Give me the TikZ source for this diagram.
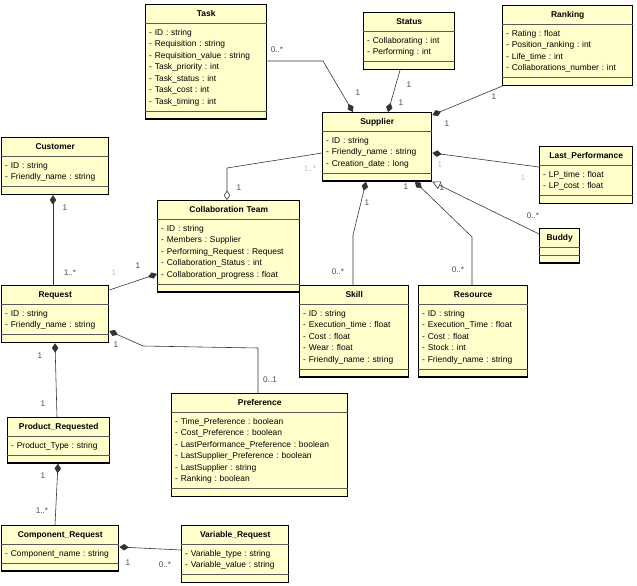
\documentclass[tikz,border=0pt]{standalone}
\usepackage{fontspec}
\setmainfont{Liberation Sans}
\usepackage{tikz}
\usetikzlibrary{arrows.meta,positioning,shapes.multipart,calc}
\definecolor{umlFill}{HTML}{FFFFCC}
\definecolor{umlLine}{HTML}{333333}
\newcommand{\umlfont}{\fontsize{7.2}{9.8}\selectfont\frenchspacing}
\tikzset{
  clase/.style={rectangle split, rectangle split parts=3, rectangle split ignore empty parts=false, rectangle split draw splits=false, draw=black, line width=1.2pt, fill=umlFill, font=\umlfont, align=left, text width=#1, inner xsep=3pt, inner ysep=2.5pt, anchor=north west},
  compart/.style={draw=black!65, line width=0.45pt},
  asoc/.style={draw=umlLine, line width=0.5pt},
  comp/.style={asoc, -{Diamond[length=8pt,width=5.5pt]}},
  agreg/.style={asoc, -{Diamond[open,length=8pt,width=5.5pt]}},
  gen/.style={asoc, -{Triangle[open,length=7pt,width=7pt]}},
  mult/.style={font=\fontsize{7}{8}\selectfont, inner sep=0pt},
}

\begin{document}
\begin{tikzpicture}[x=0.03cm, y=-0.03cm]
\useasboundingbox (0,0) rectangle (637,586);

% clases
\node[clase=97.3pt] (task) at (145,4) {\hfill\strut\textbf{Task}\hfill\null
  \nodepart{two}\strut- ID : string\\- Requisition : string\\- Requisition\_value : string\\- Task\_priority : int\\- Task\_status : int\\- Task\_cost : int\\- Task\_timing : int\strut
  \nodepart{three}\rule{0pt}{0.5pt}};
\node[clase=71.7pt] (status) at (363,12) {\hfill\strut\textbf{Status}\hfill\null
  \nodepart{two}\strut- Collaborating : int\\- Performing : int\strut
  \nodepart{three}\rule{0pt}{0.5pt}};
\node[clase=105pt] (ranking) at (502,5) {\hfill\strut\textbf{Ranking}\hfill\null
  \nodepart{two}\strut- Rating : float\\- Position\_ranking : int\\- Life\_time : int\\- Collaborations\_number : int\strut
  \nodepart{three}\rule{0pt}{0.5pt}};
\node[clase=87pt] (supplier) at (322,112) {\hfill\strut\textbf{Supplier}\hfill\null
  \nodepart{two}\strut- ID : string\\- Friendly\_name : string\\- Creation\_date : long\strut
  \nodepart{three}\rule{0pt}{0.5pt}};
\node[clase=73.4pt] (lastperf) at (539,146) {\hfill\strut\textbf{Last\_Performance}\hfill\null
  \nodepart{two}\strut- LP\_time : float\\- LP\_cost : float\strut
  \nodepart{three}\rule{0pt}{0.5pt}};
\node[clase=28.1pt] (buddy) at (539,228) {\hfill\strut\textbf{Buddy}\hfill\null
  \nodepart{two}\rule{0pt}{0.5pt}
  \nodepart{three}\rule{0pt}{0.5pt}};
\node[clase=85.3pt] (customer) at (1,137) {\hfill\strut\textbf{Customer}\hfill\null
  \nodepart{two}\strut- ID : string\\- Friendly\_name : string\strut
  \nodepart{three}\rule{0pt}{0.5pt}};
\node[clase=115.2pt] (collab) at (157,200) {\hfill\strut\textbf{Collaboration Team}\hfill\null
  \nodepart{two}\strut- ID : string\\- Members : Supplier\\- Performing\_Request : Request\\- Collaboration\_Status : int\\- Collaboration\_progress : float\strut
  \nodepart{three}\rule{0pt}{0.5pt}};
\node[clase=85.3pt] (request) at (1,285) {\hfill\strut\textbf{Request}\hfill\null
  \nodepart{two}\strut- ID : string\\- Friendly\_name : string\strut
  \nodepart{three}\rule{0pt}{0.5pt}};
\node[clase=87pt] (skill) at (299,285) {\hfill\strut\textbf{Skill}\hfill\null
  \nodepart{two}\strut- ID : string\\- Execution\_time : float\\- Cost : float\\- Wear : float\\- Friendly\_name : string\strut
  \nodepart{three}\rule{0pt}{0.5pt}};
\node[clase=87pt] (resource) at (418,285) {\hfill\strut\textbf{Resource}\hfill\null
  \nodepart{two}\strut- ID : string\\- Execution\_Time : float\\- Cost : float\\- Stock : int\\- Friendly\_name : string\strut
  \nodepart{three}\rule{0pt}{0.5pt}};
\node[clase=144.2pt] (preference) at (171,393) {\hfill\strut\textbf{Preference}\hfill\null
  \nodepart{two}\strut- Time\_Preference : boolean\\- Cost\_Preference : boolean\\- LastPerformance\_Preference : boolean\\- LastSupplier\_Preference : boolean\\- LastSupplier : string\\- Ranking : boolean\strut
  \nodepart{three}\rule{0pt}{0.5pt}};
\node[clase=81.1pt] (prodreq) at (7,417) {\hfill\strut\textbf{Product\_Requested}\hfill\null
  \nodepart{two}\strut- Product\_Type : string\strut
  \nodepart{three}\rule{0pt}{0.5pt}};
\node[clase=93.9pt] (compreq) at (1,525) {\hfill\strut\textbf{Component\_Request}\hfill\null
  \nodepart{two}\strut- Component\_name : string\strut
  \nodepart{three}\rule{0pt}{0.5pt}};
\node[clase=85.3pt] (varreq) at (181,525) {\hfill\strut\textbf{Variable\_Request}\hfill\null
  \nodepart{two}\strut- Variable\_type : string\\- Variable\_value : string\strut
  \nodepart{three}\rule{0pt}{0.5pt}};

% compartimentos
\foreach \c in {task,status,ranking,supplier,lastperf,buddy,customer,collab,request,skill,resource,preference,prodreq,compreq,varreq}
  \draw[compart] (\c.one split west) -- (\c.one split east) (\c.two split west) -- (\c.two split east);

% asociaciones
\draw[comp] (task.east |- 0,61) -- (323,61) -- (supplier.north -| 353,0);
\draw[comp] (status.south -| 400,0) -- (supplier.north -| 388,0);
\draw[comp] (ranking.south west) -- (supplier.east |- 0,115);
\draw[comp] (lastperf.west |- 0,167) -- (supplier.east |- 0,153);
\draw[gen] (buddy.west |- 0,234) -- (supplier.south east);
\draw[comp] (skill.north -| 353,0) -- (353,235) -- (supplier.south -| 366,0);
\draw[comp] (resource.north -| 472,0) -- (472,237) -- (supplier.south -| 415,0);
\draw[agreg] (supplier.west |- 0,153) -- (227,168) -- (collab.north -| 227,0);
\draw[comp] (request.north -| 53,0) -- (customer.south -| 53,0);
\draw[comp] (request.east |- 0,290) -- (collab.west |- 0,274);
\draw[comp] (preference.north -| 258,0) -- (258,348) -- (143,346) -- (request.east |- 0,331);
\draw[comp] (prodreq.north -| 57,0) -- (request.south -| 55,0);
\draw[comp] (compreq.north -| 55,0) -- (prodreq.south -| 58,0);
\draw[comp] (varreq.west |- 0,550) -- (compreq.east |- 0,547);

% multiplicidades
\foreach \px/\py/\txt/\k [count=\i] in {277/50/0..*/70, 358/93/1/70, 409/85/1/70, 401/103/1/70,
    494/97/1/70, 447/124/1/70, 440/165/1/25, 523/178/1/25, 442/188/1/70, 533/216/0..*/70,
    367/203/1/70, 338/272/0..*/70, 406/187/1/70, 458/270/0..*/70, 239/188/1/70, 310/169/1..*/25,
    65/208/1/70, 70/273/1..*/70, 138/266/1/70, 114/273/1/25, 116/345/1/70, 270/380/0..1/70,
    40/356/1/70, 43/404/1/70, 43/476/1/70, 42/511/1..*/70, 128/563/1/70, 165/565/0..*/70}
  \node[mult, text=black!\k] (m\i) at (\px,\py) {\txt};
\end{tikzpicture}
\end{document}
